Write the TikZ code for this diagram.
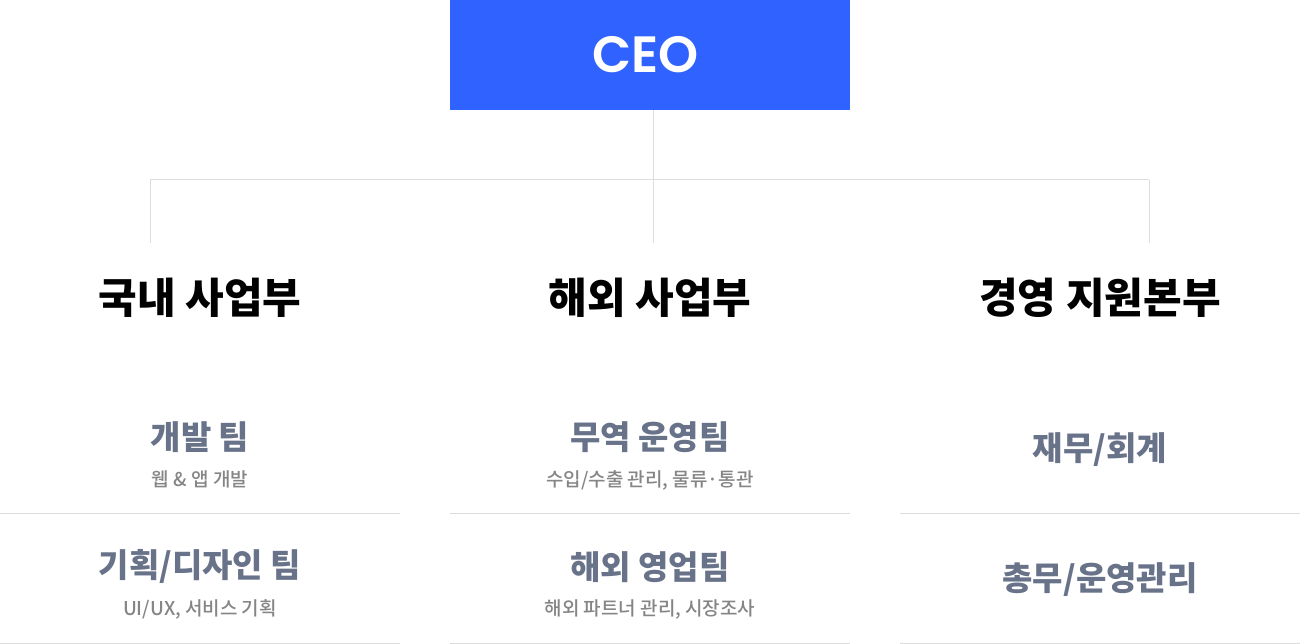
\documentclass[tikz,border=0pt]{standalone}
\usepackage{fontspec}
\newfontfamily\kr{Noto Sans CJK KR}
\newfontfamily\krm{Noto Sans CJK KR Medium}
\newfontfamily\ceofont{Poppins SemiBold}
\definecolor{ceoblue}{HTML}{2F62FF}
\definecolor{linegray}{HTML}{DDDDDD}
\definecolor{teamcol}{HTML}{687289}
\definecolor{subcol}{HTML}{858585}
\begin{document}
\begin{tikzpicture}[x=1pt,y=-1pt,
  conn/.style={draw=linegray,line width=1pt},
  sep/.style={draw=linegray,line width=1pt},
  dept/.style={inner sep=0pt,font=\kr\bfseries\fontsize{42}{44}\selectfont,text=black},
  team/.style={inner sep=0pt,font=\kr\bfseries\fontsize{33}{36}\selectfont,text=teamcol},
  sub/.style={inner sep=0pt,font=\krm\fontsize{19}{21}\selectfont,text=subcol}]
\useasboundingbox[fill=white] (0,0) rectangle (1300,644);
% CEO
\node[fill=ceoblue,minimum width=400pt,minimum height=110pt,inner sep=0pt,anchor=north west] (ceo) at (450,0) {};
\node[inner sep=0pt,text=white,font=\ceofont\fontsize{51}{53}\selectfont] (ceotxt) at ([xshift=-5pt,yshift=1pt]ceo.center) {CEO};
% connector points
\coordinate (ctop) at (653,110);
\coordinate (cend) at (653,243);
\coordinate (lbus) at (150,180);
\coordinate (lend) at (150,243);
\coordinate (rbus) at (1149,180);
\coordinate (rend) at (1149,243);
\draw[conn] (ctop) -- (cend);
\draw[conn] (lbus) -- (rbus);
\draw[conn] (lbus) -- (lend);
\draw[conn] (rbus) -- (rend);
% departments
\node[dept] (d1) at (200,298) {국내 사업부};
\node[dept] (d2) at (650,298) {해외 사업부};
\node[dept] (d3) at (1100,298) {경영 지원본부};
% left column
\node[team] (t11) at (200,437) {개발 팀};
\node[sub]  (s11) at (200,479) {웹 \& 앱 개발};
\node[team] (t12) at (200,566) {기획/디자인 팀};
\node[sub]  (s12) at (200,609) {UI/UX, 서비스 기획};
% middle column
\node[team] (t21) at (650,437) {무역 운영팀};
\node[sub]  (s21) at (650,480) {수입/수출 관리, 물류·통관};
\node[team] (t22) at (650,567) {해외 영업팀};
\node[sub]  (s22) at (650,609) {해외 파트너 관리, 시장조사};
% right column
\node[team] (t31) at (1100,450) {재무/회계};
\node[team] (t32) at (1100,580) {총무/운영관리};
% separators
\foreach \a/\b in {0/400,450/850,900/1300}{
  \draw[sep] (\a,513) -- (\b,513);
  \draw[sep] (\a,643) -- (\b,643);
}
\end{tikzpicture}
\end{document}
